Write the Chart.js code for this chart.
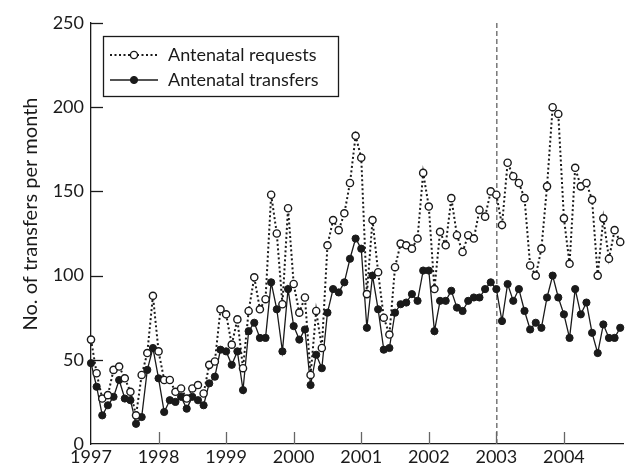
<!DOCTYPE html>
<html>
<head>
<meta charset="utf-8">
<script src="https://cdn.jsdelivr.net/npm/chart.js@4.4.1/dist/chart.umd.min.js"></script>
<style>
  html, body { margin: 0; padding: 0; background: #fff; }
  canvas { display: block; }
</style>
</head>
<body>
<canvas id="transferChart" width="629" height="468"></canvas>
<script>
// Monthly values, Jan 1997 to Nov 2004
const yearLabels = ['1997', '1998', '1999', '2000', '2001', '2002', '2003', '2004'];
const yTicks = [0, 50, 100, 150, 200, 250];
const markerYear = '2003';

const requests = [
    62, 42, 27, 29, 44, 46, 39, 31, 17, 41, 54, 88,
    55, 38, 38, 31, 33, 27, 33, 35, 30, 47, 49, 80,
    77, 59, 74, 45, 79, 99, 80, 86, 148, 125, 83, 140,
    95, 78, 87, 41, 79, 57, 118, 133, 127, 137, 155, 183,
    170, 89, 133, 102, 75, 65, 105, 119, 118, 116, 122, 161,
    141, 92, 126, 118, 146, 124, 114, 124, 122, 139, 135, 150,
    148, 130, 167, 159, 155, 146, 106, 100, 116, 153, 200, 196,
    134, 107, 164, 153, 155, 145, 100, 134, 110, 127, 120
];

const transfers = [
    48, 34, 17, 23, 28, 38, 27, 26, 12, 16, 44, 57,
    39, 19, 26, 25, 28, 21, 28, 26, 23, 36, 40, 56,
    55, 47, 55, 32, 67, 72, 63, 63, 96, 80, 55, 92,
    70, 62, 68, 35, 53, 45, 78, 92, 90, 96, 110, 122,
    116, 69, 100, 80, 56, 57, 78, 83, 84, 89, 85, 103,
    103, 67, 85, 85, 91, 81, 79, 85, 87, 87, 92, 96,
    92, 73, 95, 85, 92, 79, 68, 72, 69, 87, 100, 87,
    77, 63, 92, 77, 84, 66, 54, 71, 63, 63, 69
];

const ink = '#1a1a1a';
const fontFamily = 'Lato, "Open Sans", sans-serif';

// Inward tick marks, the 2003 marker line, y title and boxed legend
const decorations = {
    id: 'decorations',
    beforeDatasetsDraw(chart) {
        const ctx = chart.ctx;
        const x = chart.scales.x;
        const y = chart.scales.y;
        ctx.save();
        // dashed line at 2003
        const mx = x.getPixelForValue(yearLabels.indexOf(markerYear) * 12);
        ctx.strokeStyle = '#333';
        ctx.lineWidth = 1;
        ctx.setLineDash([5, 3]);
        ctx.beginPath();
        ctx.moveTo(mx + 0.5, y.top);
        ctx.lineTo(mx + 0.5, y.bottom);
        ctx.stroke();
        ctx.setLineDash([]);

        // tick marks pointing into the plot
        ctx.strokeStyle = ink;
        ctx.lineWidth = 1.3;
        yTicks.slice(1).forEach(v => {
            const py = Math.round(y.getPixelForValue(v)) + 0.5;
            ctx.beginPath();
            ctx.moveTo(x.left, py);
            ctx.lineTo(x.left + 12, py);
            ctx.stroke();
        });
        ctx.strokeStyle = '#666';
        yearLabels.slice(1).forEach((_, k) => {
            const px = Math.round(x.getPixelForValue((k + 1) * 12)) + 0.5;
            ctx.beginPath();
            ctx.moveTo(px, y.bottom);
            ctx.lineTo(px, y.bottom - 12);
            ctx.stroke();
        });

        // y axis title
        ctx.fillStyle = ink;
        ctx.font = '20px ' + fontFamily;
        ctx.textAlign = 'center';
        ctx.textBaseline = 'middle';
        ctx.translate(31, 214);
        ctx.rotate(-Math.PI / 2);
        ctx.fillText('No. of transfers per month', 0, 0);
        ctx.restore();
    },
    afterDatasetsDraw(chart) {
        const ctx = chart.ctx;
        ctx.save();
        ctx.fillStyle = '#fff';
        ctx.fillRect(103.5, 36.5, 235, 60);
        ctx.strokeStyle = ink;
        ctx.lineWidth = 1.3;
        ctx.strokeRect(103.5, 36.5, 235, 60);

        const rows = [55, 80];
        chart.data.datasets.forEach((ds, i) => {
            const ly = rows[i];
            ctx.strokeStyle = ds.borderColor;
            ctx.lineWidth = ds.borderWidth;
            ctx.setLineDash(ds.borderDash || []);
            ctx.beginPath();
            ctx.moveTo(110, ly);
            ctx.lineTo(158, ly);
            ctx.stroke();
            ctx.setLineDash([]);
            ctx.beginPath();
            ctx.arc(134, ly, ds.pointRadius, 0, Math.PI * 2);
            ctx.fillStyle = ds.pointBackgroundColor;
            ctx.fill();
            ctx.lineWidth = ds.pointBorderWidth;
            ctx.strokeStyle = ds.pointBorderColor;
            ctx.stroke();

            ctx.fillStyle = ink;
            ctx.font = '18px ' + fontFamily;
            ctx.textAlign = 'left';
            ctx.textBaseline = 'middle';
            ctx.fillText(ds.label, 168, ly);
        });
        ctx.restore();
    }
};

const ctx = document.getElementById('transferChart').getContext('2d');
const transferChart = new Chart(ctx, {
    type: 'line',
    data: {
        datasets: [{
            label: 'Antenatal requests',
            data: requests.map((v, i) => ({ x: i, y: v })),
            borderColor: ink,
            borderWidth: 2,
            borderDash: [2, 2.5],
            pointRadius: 3.6,
            pointBorderWidth: 1.4,
            pointBackgroundColor: '#fff',
            pointBorderColor: ink,
            tension: 0,
            clip: 8
        }, {
            label: 'Antenatal transfers',
            data: transfers.map((v, i) => ({ x: i, y: v })),
            borderColor: ink,
            borderWidth: 1.3,
            pointRadius: 3.6,
            pointBorderWidth: 1,
            pointBackgroundColor: ink,
            pointBorderColor: ink,
            tension: 0,
            clip: 8
        }]
    },
    options: {
        responsive: false,
        animation: false,
        devicePixelRatio: 1,
        layout: {
            padding: { top: 23, right: 0, bottom: 0, left: 0 }
        },
        plugins: {
            legend: { display: false },
            tooltip: { enabled: false }
        },
        scales: {
            x: {
                type: 'linear',
                min: 0,
                max: 94.6,
                afterBuildTicks: (scale) => {
                    scale.ticks = yearLabels.map((_, k) => ({ value: k * 12 }));
                },
                afterFit: (scale) => { scale.height = 24; },
                ticks: {
                    callback: (value) => yearLabels[value / 12],
                    autoSkip: false,
                    maxRotation: 0,
                    padding: 2,
                    color: ink,
                    font: { family: fontFamily, size: 18 }
                },
                grid: { display: false, drawTicks: false },
                border: { display: true, color: ink, width: 1.3 }
            },
            y: {
                min: 0,
                max: 250,
                afterBuildTicks: (scale) => {
                    scale.ticks = yTicks.map(v => ({ value: v }));
                },
                afterFit: (scale) => { scale.width = 91; },
                ticks: {
                    padding: 7,
                    color: ink,
                    font: { family: fontFamily, size: 18 }
                },
                grid: { display: false, drawTicks: false },
                border: { display: true, color: ink, width: 1.3 }
            }
        }
    },
    plugins: [decorations]
});
</script>
</body>
</html>
